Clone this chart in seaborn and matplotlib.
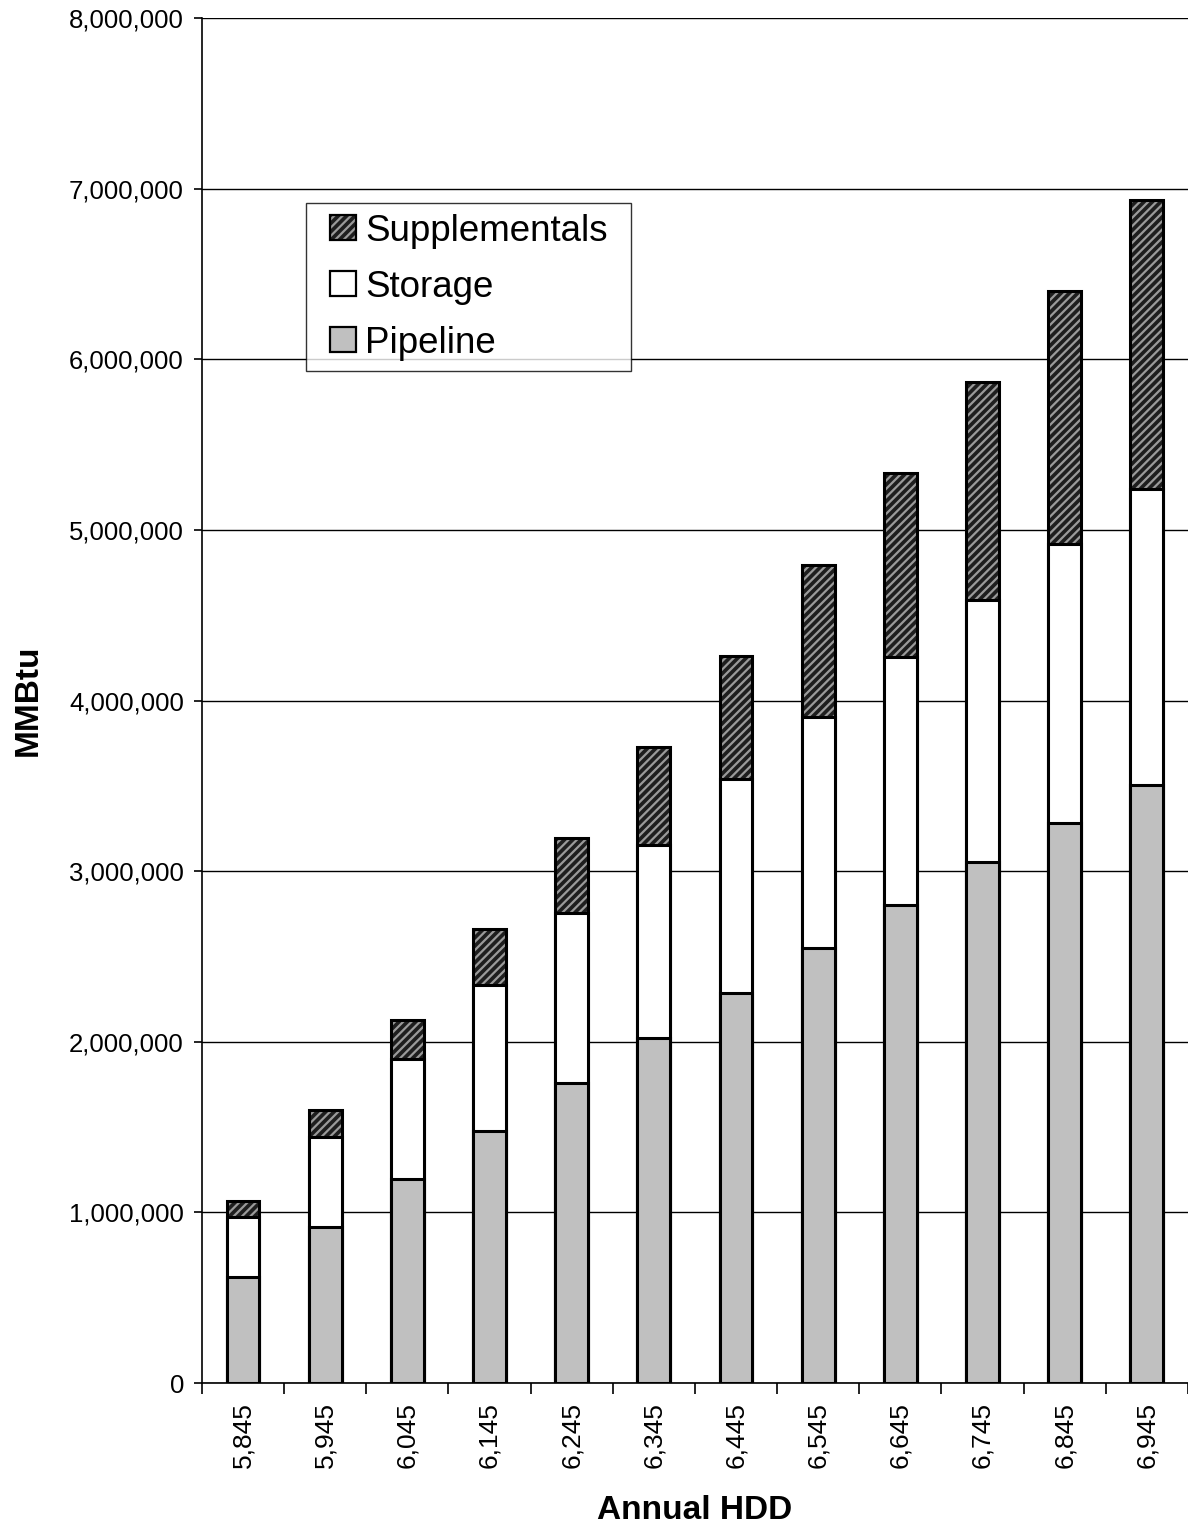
import matplotlib
matplotlib.use("Agg")
import matplotlib.pyplot as plt
import seaborn as sns
import numpy as np
import pandas as pd
from matplotlib.patches import Patch, Rectangle
from matplotlib.ticker import FuncFormatter, MultipleLocator, FixedLocator

hdd = ["5,845", "5,945", "6,045", "6,145", "6,245", "6,345",
       "6,445", "6,545", "6,645", "6,745", "6,845", "6,945"]
pipeline = [621000, 914000, 1196000, 1477000, 1758000, 2022000,
            2286000, 2550000, 2802000, 3054000, 3283000, 3505000]
storage = [352000, 528000, 703000, 856000, 997000, 1132000,
           1255000, 1354000, 1454000, 1536000, 1635000, 1735000]
supplementals = [94000, 158000, 229000, 328000, 440000, 574000,
                 721000, 891000, 1078000, 1278000, 1483000, 1694000]

sns.set_theme(style="white")
plt.rcParams['font.family'] = ['Liberation Sans', 'DejaVu Sans']
plt.rcParams['hatch.linewidth'] = 1.6
plt.rcParams['text.color'] = 'black'
plt.rcParams['axes.labelcolor'] = 'black'

df = pd.DataFrame({"hdd": hdd, "pipeline": pipeline,
                   "storage": storage, "supp": supplementals})
df["lvl2"] = df["pipeline"] + df["storage"]
df["lvl3"] = df["lvl2"] + df["supp"]

fig = plt.figure(figsize=(11.88, 15.25), dpi=100)
ax = fig.add_axes([0.170, 0.0931, 0.830, 0.8951])

w = 0.4
# top layer (supplementals) with gray hatch
sns.barplot(data=df, x="hdd", y="lvl3", color="#1e1e1e", width=w, ax=ax,
            hatch="////", edgecolor="#9a9a9a", linewidth=0, saturation=1, zorder=2)
sns.barplot(data=df, x="hdd", y="lvl3", fill=False, width=w, ax=ax,
            edgecolor="black", linewidth=2.2, zorder=3)
# storage
sns.barplot(data=df, x="hdd", y="lvl2", color="white", width=w, ax=ax,
            edgecolor="black", linewidth=2.2, saturation=1, zorder=4)
# pipeline
sns.barplot(data=df, x="hdd", y="pipeline", color="#c0c0c0", width=w, ax=ax,
            edgecolor="black", linewidth=2.2, saturation=1, zorder=5)

ax.set_ylim(0, 8000000)
ax.set_xlim(-0.5, 11.5)
ax.yaxis.set_major_locator(MultipleLocator(1000000))
ax.yaxis.set_major_formatter(FuncFormatter(lambda v, p: f"{int(v):,}"))
ax.grid(axis="y", color="black", linewidth=1.0)
ax.grid(axis="x", visible=False)
ax.set_axisbelow(True)

for s in ["top", "right"]:
    ax.spines[s].set_visible(False)
ax.spines["left"].set_color("black")
ax.spines["left"].set_linewidth(1.2)
ax.spines["bottom"].set_color("black")
ax.spines["bottom"].set_linewidth(1.2)

ax.tick_params(axis="y", which="major", direction="out", length=6, width=1.2,
               colors="black", labelsize=18.5, pad=7, left=True)
ax.tick_params(axis="x", which="major", length=0, labelsize=19, pad=14,
               labelrotation=90, colors="black")
ax.xaxis.set_minor_locator(FixedLocator(np.arange(-0.5, 12.0, 1.0)))
ax.tick_params(axis="x", which="minor", direction="out", length=8, width=1.2,
               colors="black", bottom=True)

ax.set_xlabel("Annual HDD", fontsize=24, fontweight="bold", labelpad=19)
ax.set_ylabel("MMBtu", fontsize=24, fontweight="bold", labelpad=18)


class SquareHandler:
    """Draws a square swatch right-aligned in the handle box."""
    def __init__(self, face, hatch=None, hatch_color=None):
        self.face = face
        self.hatch = hatch
        self.hatch_color = hatch_color

    def legend_artist(self, legend, orig_handle, fontsize, handlebox):
        x0, y0 = handlebox.xdescent, handlebox.ydescent
        wd, ht = handlebox.width, handlebox.height
        sq = ht
        x = -x0 + wd - sq
        y = -y0
        tr = handlebox.get_transform()
        if self.hatch:
            base = Rectangle((x, y), sq, sq, facecolor=self.face,
                             edgecolor=self.hatch_color, hatch=self.hatch,
                             linewidth=0, transform=tr)
            handlebox.add_artist(base)
        outline = Rectangle((x, y), sq, sq,
                            facecolor="none" if self.hatch else self.face,
                            edgecolor="black", linewidth=1.6, transform=tr)
        handlebox.add_artist(outline)
        return outline


h_supp = Patch(label="Supplementals")
h_stor = Patch(label="Storage")
h_pipe = Patch(label="Pipeline")
leg = ax.legend(handles=[h_supp, h_stor, h_pipe], loc="upper left",
                bbox_to_anchor=(0.1055, 0.7, 0.3296, 0.1645), mode="expand",
                borderaxespad=0, fontsize=26.5, frameon=True, fancybox=False,
                edgecolor="black", handlelength=1.06, handleheight=0.68,
                handletextpad=0.25, labelspacing=0.57, borderpad=0.29,
                handler_map={h_supp: SquareHandler("#1e1e1e", "////", "#9a9a9a"),
                             h_stor: SquareHandler("white"),
                             h_pipe: SquareHandler("#c0c0c0")})
leg.get_frame().set_linewidth(1.0)
leg.set_zorder(10)

fig.savefig("out.png", dpi=100)
